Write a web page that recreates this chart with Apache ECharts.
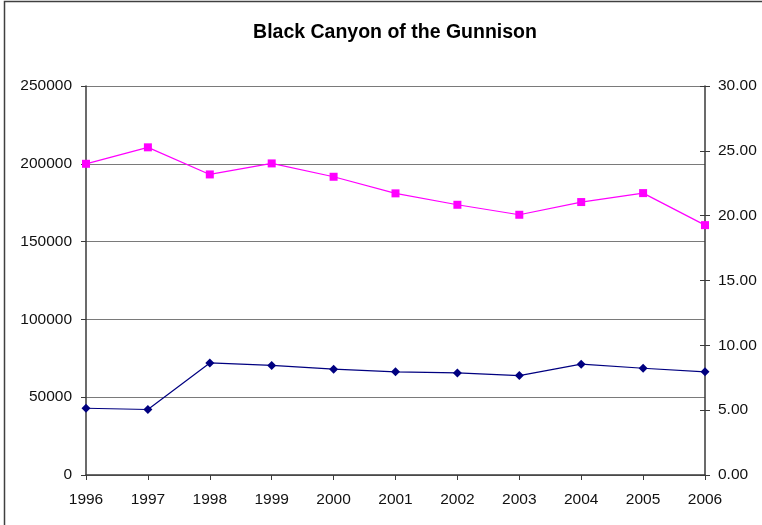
<!DOCTYPE html>
<html>
<head>
<meta charset="utf-8">
<script src="https://cdn.jsdelivr.net/npm/echarts@6/dist/echarts.min.js"></script>
<style>
  html, body { margin: 0; padding: 0; background: #fff; }
  #chart { width: 762px; height: 525px; }
</style>
</head>
<body>
<div id="chart"></div>
<script>
// Years along the bottom axis
const years = ['1996', '1997', '1998', '1999', '2000', '2001', '2002', '2003', '2004', '2005', '2006'];
// Series on the left axis (navy diamonds)
const leftSeries = [42900, 42100, 72000, 70400, 68000, 66300, 65600, 63900, 71200, 68600, 66300];
// Series on the right axis (magenta squares)
const rightSeries = [24.00, 25.27, 23.18, 24.03, 23.00, 21.72, 20.84, 20.07, 21.05, 21.74, 19.27];

const labelFont = { fontFamily: 'Liberation Sans, Arial, sans-serif', fontSize: 15.5, color: '#111' };
const axisDark = '#3a3a3a';

const chart = echarts.init(document.getElementById('chart'));
chart.setOption({
  animation: false,
  backgroundColor: '#fff',
  graphic: [{
    type: 'rect',
    shape: { x: 4.5, y: 1.5, width: 800, height: 600 },
    style: { fill: 'none', stroke: '#404040', lineWidth: 1.5 },
    silent: true
  }],
  title: {
    text: 'Black Canyon of the Gunnison',
    left: 390, top: 18, textAlign: 'center',
    textStyle: { fontFamily: 'Liberation Sans, Arial, sans-serif', fontSize: 19.5, fontWeight: 'bold', color: '#000' }
  },
  grid: { left: 86, right: 57, top: 86, bottom: 50, containLabel: false },
  xAxis: {
    type: 'category', data: years, boundaryGap: false,
    axisLine: { lineStyle: { color: axisDark, width: 1.5 } },
    axisTick: { show: true, length: 5, alignWithLabel: true, lineStyle: { color: axisDark } },
    axisLabel: Object.assign({ margin: 17 }, labelFont),
    splitLine: { show: false }
  },
  yAxis: [{
    type: 'value', min: 0, max: 250000, interval: 50000, position: 'left',
    axisLine: { show: true, lineStyle: { color: axisDark, width: 1.5 } },
    axisTick: { show: true, length: 5, lineStyle: { color: axisDark } },
    axisLabel: Object.assign({ margin: 14, formatter: v => String(v) }, labelFont),
    splitLine: { show: true, lineStyle: { color: '#7a7a7a', width: 1.2 } }
  }, {
    type: 'value', min: 0, max: 30, interval: 5, position: 'right',
    axisLine: { show: true, lineStyle: { color: axisDark, width: 1.5 } },
    axisTick: { show: true, length: 5, lineStyle: { color: axisDark } },
    axisLabel: Object.assign({ margin: 13, formatter: v => v.toFixed(2) }, labelFont),
    splitLine: { show: false }
  }, {
    // inner half of the crossing ticks on the right axis
    type: 'value', min: 0, max: 30, interval: 5, position: 'right',
    axisLine: { show: false },
    axisTick: { show: true, inside: true, length: 5, lineStyle: { color: axisDark } },
    axisLabel: { show: false },
    splitLine: { show: false }
  }],
  series: [{
    type: 'line', yAxisIndex: 0, data: leftSeries,
    symbol: 'diamond', symbolSize: 9,
    lineStyle: { color: '#000080', width: 1.2 },
    itemStyle: { color: '#000080' }
  }, {
    type: 'line', yAxisIndex: 1, data: rightSeries,
    symbol: 'rect', symbolSize: 8,
    lineStyle: { color: '#FF00FF', width: 1.2 },
    itemStyle: { color: '#FF00FF' }
  }]
});
</script>
</body>
</html>
